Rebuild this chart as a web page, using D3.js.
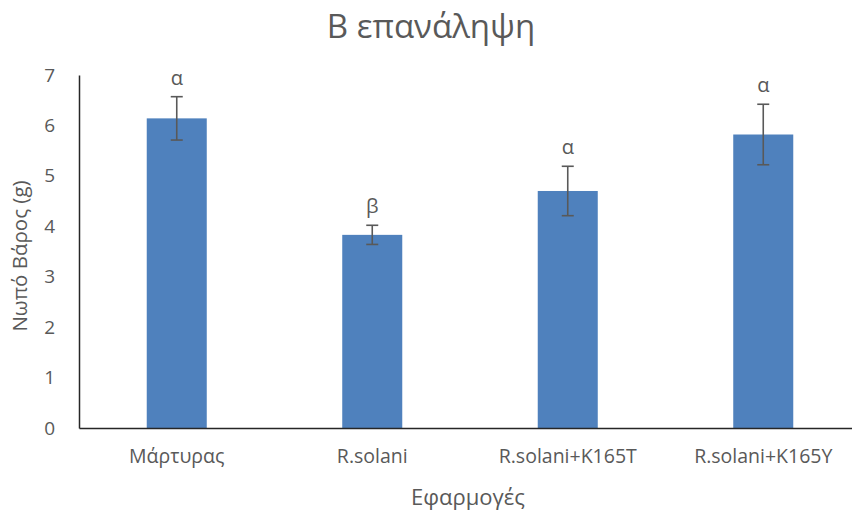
<!DOCTYPE html>
<html>
<head>
<meta charset="utf-8">
<script src="https://cdn.jsdelivr.net/npm/d3@7"></script>
<style>
  html, body { margin: 0; padding: 0; background: #fff; }
  svg { display: block; font-family: "Open Sans", "Noto Sans", sans-serif; }
</style>
</head>
<body>
<svg id="chart" width="852" height="531"></svg>
<script>
// Fresh weight per treatment, second repetition
const categories = ["Μάρτυρας", "R.solani", "R.solani+K165T", "R.solani+K165Y"];
const means = [6.14, 3.83, 4.70, 5.82];
const errors = [0.43, 0.19, 0.49, 0.60];
const letters = ["α", "β", "α", "α"];
const yTicks = [0, 1, 2, 3, 4, 5, 6, 7];

const svg = d3.select("#chart");
const margin = { left: 79, right: -9, top: 75, bottom: 103 };
const W = 852, H = 531;

const x = d3.scaleBand()
  .domain(categories)
  .range([margin.left, W - margin.right])
  .paddingInner(0.693)
  .paddingOuter(0.3465);

const y = d3.scaleLinear()
  .domain([0, 7])
  .range([H - margin.bottom, margin.top]);

const textColor = "#595959";

// Title
svg.append("text")
  .attr("x", 431).attr("y", 38)
  .attr("text-anchor", "middle")
  .attr("font-size", 33)
  .attr("fill", textColor)
  .text("Β επανάληψη");

// Y axis: line + labels, no tick marks
const yAxis = d3.axisLeft(y).tickValues(yTicks).tickFormat(d3.format("d"))
  .tickSize(0).tickPadding(24);
const gy = svg.append("g")
  .attr("transform", `translate(${margin.left},0)`)
  .call(yAxis);
gy.select(".domain").attr("stroke", "#262626").attr("stroke-width", 1.5);
gy.selectAll("text").attr("font-size", 19).attr("fill", textColor)
  .attr("font-family", "'Open Sans', sans-serif");

// Bars
svg.append("g").selectAll("rect")
  .data(categories)
  .join("rect")
  .attr("x", d => x(d))
  .attr("width", x.bandwidth())
  .attr("y", (d, i) => y(means[i]))
  .attr("height", (d, i) => y(0) - y(means[i]))
  .attr("fill", "#4F81BD");

// Error bars
const eb = svg.append("g").attr("stroke", "#595959").attr("stroke-width", 1.6);
categories.forEach((c, i) => {
  const cx = x(c) + x.bandwidth() / 2;
  const hi = y(means[i] + errors[i]), lo = y(means[i] - errors[i]);
  eb.append("line").attr("x1", cx).attr("x2", cx).attr("y1", hi).attr("y2", lo);
  eb.append("line").attr("x1", cx - 6).attr("x2", cx + 6).attr("y1", hi).attr("y2", hi);
  eb.append("line").attr("x1", cx - 6).attr("x2", cx + 6).attr("y1", lo).attr("y2", lo);
});

// Significance letters
svg.append("g").selectAll("text")
  .data(categories)
  .join("text")
  .attr("x", d => x(d) + x.bandwidth() / 2)
  .attr("y", (d, i) => y(means[i] + errors[i]) - 12)
  .attr("text-anchor", "middle")
  .attr("font-size", 20)
  .attr("fill", textColor)
  .text((d, i) => letters[i]);

// X axis
const xAxis = d3.axisBottom(x).tickSize(0).tickPadding(21);
const gx = svg.append("g")
  .attr("transform", `translate(0,${y(0)})`)
  .call(xAxis);
gx.select(".domain").attr("stroke", "#262626").attr("stroke-width", 1.5);
gx.selectAll("text").attr("font-size", 19.5).attr("fill", textColor)
  .attr("font-family", "'Open Sans', sans-serif");

// Axis titles
svg.append("text")
  .attr("x", 468).attr("y", 505)
  .attr("text-anchor", "middle")
  .attr("font-size", 22)
  .attr("fill", textColor)
  .text("Εφαρμογές");

svg.append("text")
  .attr("transform", "translate(27,256) rotate(-90)")
  .attr("text-anchor", "middle")
  .attr("font-size", 20.5)
  .attr("fill", textColor)
  .text("Νωπό Βάρος  (g)");
</script>
</body>
</html>
